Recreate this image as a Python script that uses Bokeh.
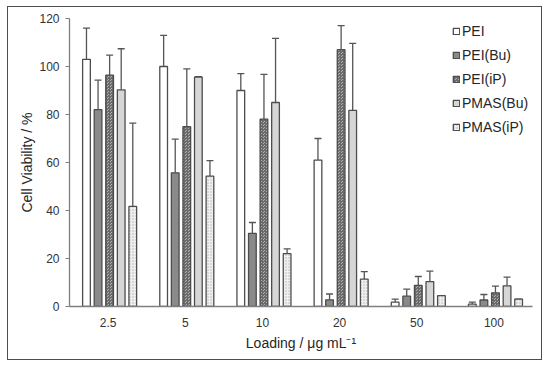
from bokeh.plotting import figure
from bokeh.models import ColumnDataSource, FactorRange, Whisker, Legend, LegendItem, TeeHead, Range1d
from bokeh.transform import dodge
from bokeh.embed import file_html
from bokeh.resources import INLINE

cats = ["2.5", "5", "10", "20", "50", "100"]
series = ["PEI", "PEI(Bu)", "PEI(iP)", "PMAS(Bu)", "PMAS(iP)"]
pei = [103, 100, 90, 61, 1.8, 1.0]
pei_sd = [13, 13, 7, 9, 1.3, 0.8]
pei_bu = [82, 55.7, 30.5, 2.8, 4.3, 2.7]
pei_bu_sd = [12.3, 14, 4.5, 2.4, 2.9, 2.3]
pei_ip = [96.4, 74.9, 78.1, 107, 8.8, 5.7]
pei_ip_sd = [8.3, 24.1, 18.6, 10, 3.7, 2.8]
pmas_bu = [90.3, 95.6, 85, 81.7, 10.4, 8.6]
pmas_bu_sd = [17.1, 0.2, 26.7, 27.9, 4.3, 3.6]
pmas_ip = [41.7, 54.3, 22, 11.4, 4.5, 3.1]
pmas_ip_sd = [34.7, 6.5, 2, 3.1, 0, 0]

FONT = "Liberation Sans"
p = figure(x_range=FactorRange(*cats, range_padding=0), y_range=Range1d(0, 120),
           width=535, height=354, output_backend="svg", toolbar_location=None,
           min_border_left=61, min_border_right=11, min_border_top=11, min_border_bottom=55)
p.styles = {"border": "1px solid #4d4d4d", "margin-left": "7px", "margin-top": "6px"}
p.outline_line_color = None
p.xgrid.visible = False
p.ygrid.visible = False

styles = [
    dict(fill_color="white"),
    dict(fill_color="#8a8a8a"),
    dict(fill_color="#b0b0b0", hatch_pattern="criss_cross", hatch_color="#6a6a6a", hatch_scale=3, hatch_weight=1),
    dict(fill_color="#d6d6d6"),
    dict(fill_color="#f0f0f0", hatch_pattern="dot", hatch_color="#b0b0b0", hatch_scale=3, hatch_weight=1),
]
vals = [pei, pei_bu, pei_ip, pmas_bu, pmas_ip]
sds = [pei_sd, pei_bu_sd, pei_ip_sd, pmas_bu_sd, pmas_ip_sd]
offsets = [-0.28, -0.13, 0.02, 0.17, 0.32]

items = []
for name, v, sd, off, st in zip(series, vals, sds, offsets, styles):
    src = ColumnDataSource(dict(cat=cats, val=v, up=[a + b for a, b in zip(v, sd)]))
    r = p.vbar(x=dodge("cat", off, range=p.x_range), top="val", width=0.1, source=src,
               line_color="#4d4d4d", line_width=1.3, **st)
    w = Whisker(base=dodge("cat", off, range=p.x_range), lower="val", upper="up", source=src,
                line_color="#555555", line_width=1.3,
                upper_head=TeeHead(size=7, line_color="#555555", line_width=1.3), lower_head=None)
    p.add_layout(w)
    items.append(LegendItem(label=name, renderers=[r]))

legend = Legend(items=items, location=(383, 169), padding=0, margin=0, spacing=4,
                glyph_width=8, glyph_height=8, label_height=20, label_standoff=2,
                label_text_font=FONT, label_text_font_size="14px", label_text_color="#262626",
                background_fill_alpha=0, border_line_color=None)
p.add_layout(legend)

p.yaxis.ticker = [0, 20, 40, 60, 80, 100, 120]
for ax in [p.xaxis, p.yaxis]:
    ax.axis_line_color = "#7f7f7f"
    ax.axis_line_width = 1.3
    ax.major_label_text_font = FONT
    ax.major_label_text_font_size = "12px"
    ax.major_label_text_color = "#333333"
    ax.axis_label_text_font = FONT
    ax.axis_label_text_font_size = "14px"
    ax.axis_label_text_font_style = "normal"
    ax.axis_label_text_color = "#262626"
    ax.minor_tick_line_color = None
p.yaxis.major_tick_line_color = "#7f7f7f"
p.yaxis.major_tick_out = 4
p.yaxis.major_tick_in = 0
p.yaxis.major_label_standoff = 6
p.yaxis.axis_label = "Cell Viability / %"
p.yaxis.axis_label_standoff = 1
p.xaxis.major_tick_line_color = None
p.xaxis.major_label_standoff = 5
p.xaxis.axis_label = "Loading / μg mL⁻¹"
p.xaxis.axis_label_standoff = 5

open("out.html", "w").write(file_html(p, INLINE))
